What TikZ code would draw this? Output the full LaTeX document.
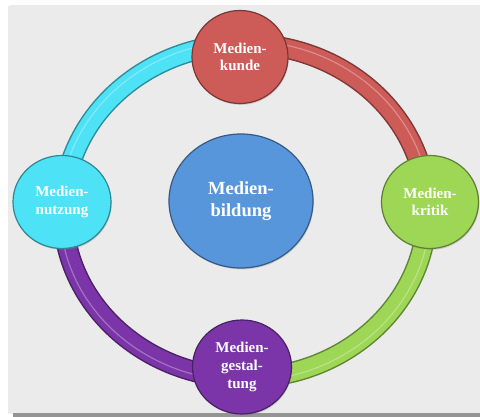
\documentclass[tikz,border=0pt]{standalone}
\usepackage{fontspec}
\setmainfont{Liberation Serif}
\usetikzlibrary{shapes.geometric,shadows}
\definecolor{bg}{HTML}{EBEBEB}
\definecolor{rd}{HTML}{CD5B58}
\definecolor{gn}{HTML}{9ED655}
\definecolor{pu}{HTML}{7B35A8}
\definecolor{cy}{HTML}{4DE2F5}
\definecolor{bl}{HTML}{5896DC}
\begin{document}
\begin{tikzpicture}[x=1pt,y=-1pt,
  bubble/.style={ellipse, inner sep=0pt, minimum width=96pt, minimum height=93pt,
    line width=1.2pt, text=white, align=center,
    font=\bfseries\fontsize{15}{17.5}\selectfont,
    drop shadow={opacity=0.3,shadow xshift=0.8pt,shadow yshift=-1.4pt}},
  core/.style={bubble, minimum width=144pt, minimum height=134pt,
    font=\bfseries\fontsize{18.5}{22}\selectfont}]
\useasboundingbox (0,0) rectangle (480,417);
% background panel
\fill[black!8] (8,6) rectangle (480,414);
\fill[black!42] (13,410) rectangle (480,416.5);
\fill[bg] (10,5) rectangle (480,413);
% ring
\coordinate (ring) at (245,211);
\foreach \a/\b/\c in {-90/0/rd, 0/90/gn, 90/180/pu, 180/270/cy}{
  \draw[line width=21pt, \c!62!black] (ring) ++(\a:182 and 167)
    arc[start angle=\a, end angle=\b, x radius=182, y radius=167];
  \draw[line width=18pt, \c] (ring) ++(\a:182 and 167)
    arc[start angle=\a, end angle=\b, x radius=182, y radius=167];
  \draw[line width=1.2pt, \c!50!white, opacity=0.6] (ring) ++(\a:185 and 170)
    arc[start angle=\a, end angle=\b, x radius=185, y radius=170];
}
% nodes
\node[bubble, fill=rd, draw=rd!60!black] (kunde) at (240,57) {Medien-\\kunde};
\node[bubble, fill=gn, draw=gn!60!black, minimum width=97pt] (kritik) at (430,202) {Medien-\\kritik};
\node[bubble, fill=pu, draw=pu!60!black, minimum width=99pt, minimum height=94pt,
  font=\bfseries\fontsize{15}{18}\selectfont] (gestaltung) at (242,367) {Medien-\\gestal-\\tung};
\node[bubble, fill=cy, draw=cy!60!black, minimum width=98pt] (nutzung) at (62,202) {Medien-\\nutzung};
\node[core, fill=bl, draw=bl!60!black] (bildung) at (241,201) {Medien-\\bildung};
\end{tikzpicture}
\end{document}
